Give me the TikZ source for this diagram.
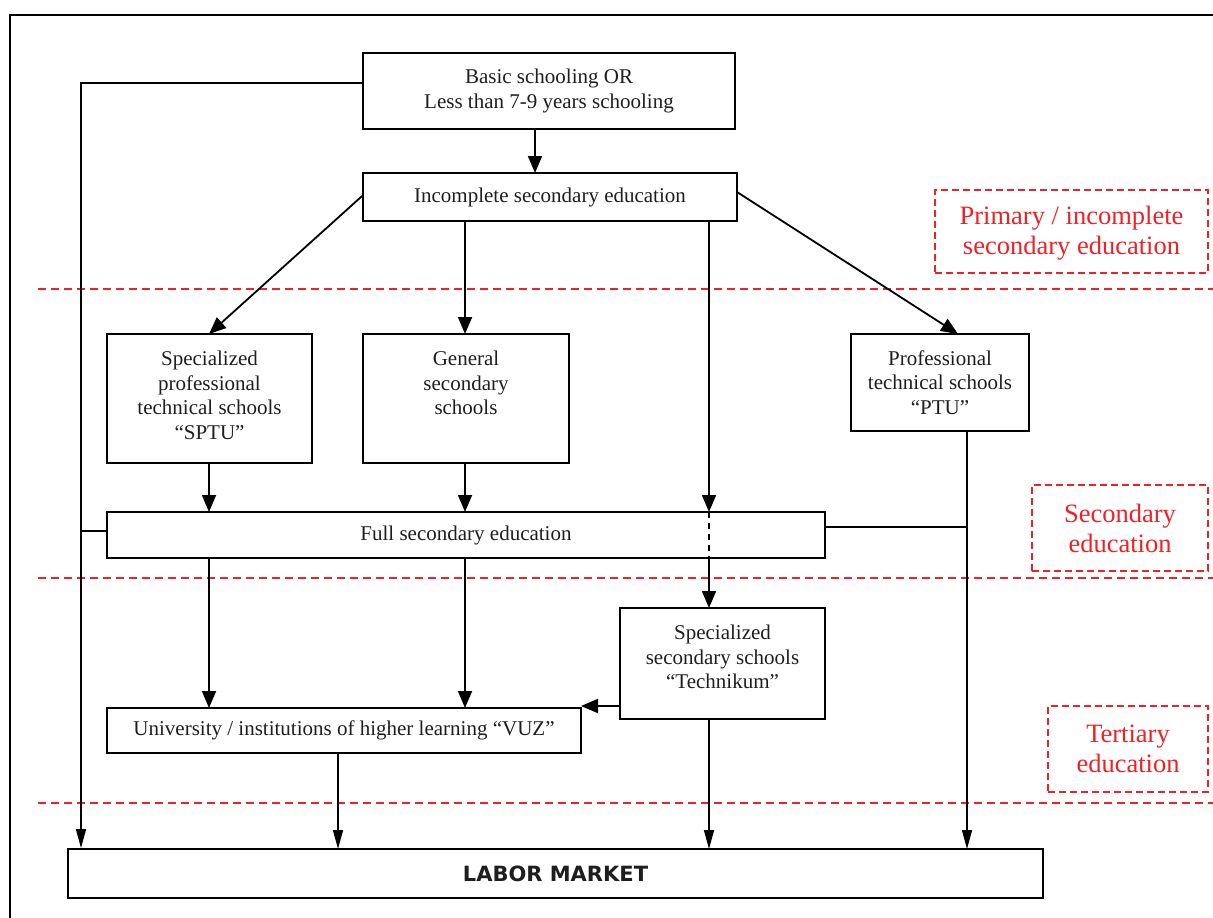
\documentclass[tikz,border=0pt]{standalone}
\usepackage{fontspec}
\setmainfont{Liberation Serif}
\newfontfamily\lmfont{DejaVu Sans}
\usetikzlibrary{arrows.meta,calc}
\definecolor{redline}{RGB}{236,34,40}
\definecolor{ink}{RGB}{30,30,30}
\begin{document}
\begin{tikzpicture}[x=1pt,y=-1pt,
  box/.style={draw,line width=1.8pt,inner sep=0pt},
  lbl/.style={align=center,font=\fontsize{21}{24.5}\selectfont,inner sep=0pt,text=ink},
  conn/.style={line width=1.8pt},
  arr/.style={line width=1.8pt,-{Triangle[length=17pt,width=14pt]}},
  arrs/.style={line width=1.5pt,-{Triangle[length=19pt,width=10pt]}},
  redbox/.style={draw=redline,dash pattern=on 7pt off 4pt,line width=1.8pt,inner sep=0pt},
  redtext/.style={text=redline,align=center,inner sep=0pt,font=\fontsize{26.5}{30}\selectfont},
  redline/.style={draw=redline,dash pattern=on 8pt off 5pt,line width=1.7pt}]
\useasboundingbox (0,0) rectangle (1213,918);
% outer frame
\draw[line width=1.8pt] (10,918) -- (10,15) -- (1213,15);
% red dividers
\draw[redline] (38,289) -- (1213,289);
\draw[redline] (38,578) -- (1213,578);
\draw[redline] (38,803) -- (1213,803);
% red labels
\node[redbox,minimum width=273pt,minimum height=83pt] (lp) at (1071.5,231.5) {};
\node[redtext] (lpt) at ($(lp.center)+(0,2)$) {Primary / incomplete\\secondary education};
\node[redbox,minimum width=176pt,minimum height=86pt] (ls) at (1120,528) {};
\node[redtext] (lst) at ($(ls.center)+(0,0)$) {Secondary\\education};
\node[redbox,minimum width=160pt,minimum height=86pt] (lt) at (1128,749) {};
\node[redtext] (ltt) at ($(lt.center)+(0,0)$) {Tertiary\\education};
% boxes
\node[box,minimum width=372pt,minimum height=76pt,lbl] (basic) at (549,91) {Basic schooling OR\\Less than 7-9 years schooling};
\node[box,minimum width=374pt,minimum height=48pt,lbl] (inc) at (550,197) {Incomplete secondary education};
\node[box,minimum width=205pt,minimum height=129pt] (sptu) at (209.5,398.5) {};
\node[lbl,anchor=north] (sptut) at ($(sptu.north)+(0,18)$) {Specialized\\professional\\technical schools\\``SPTU''};
\node[box,minimum width=206pt,minimum height=129pt] (gen) at (466,398.5) {};
\node[lbl,anchor=north] (gent) at ($(gen.north)+(0,18)$) {General\\secondary\\schools};
\node[box,minimum width=178pt,minimum height=97pt] (ptu) at (940,382.5) {};
\node[lbl,anchor=north] (ptut) at ($(ptu.north)+(0,17)$) {Professional\\technical schools\\``PTU''};
\node[box,minimum width=718pt,minimum height=46pt,lbl] (full) at (466,535) {Full secondary education};
\node[box,minimum width=205pt,minimum height=111pt] (tech) at (722.5,663.5) {};
\node[lbl,anchor=north] (techt) at ($(tech.north)+(0,18)$) {Specialized\\secondary schools\\``Technikum''};
\node[box,minimum width=474pt,minimum height=45pt,lbl] (vuz) at (344,730.5) {University / institutions of higher learning ``VUZ''};
\node[box,minimum width=975pt,minimum height=49pt,font=\lmfont\bfseries\fontsize{21}{24}\selectfont,text=ink] (labor) at (555.5,873.5) {LABOR MARKET};
% connectors
\coordinate (lc) at (81,83);
\draw[arrs] (basic.west |- lc) -- (lc) -- (lc |- labor.north);
\draw[conn] (81,531) -- (full.west |- 0,531);
\draw[arr] (535,129) -- (535,173);
\draw[arr] (inc.west) ++(0,-1) -- (209,334);
\draw[arr] (465,221) -- (465,334);
\draw[arr] (709,221) -- (709,512);
\draw[line width=1.8pt,dash pattern=on 6pt off 5pt] (709,512) -- (709,558);
\draw[arr] (709,558) -- (709,608);
\draw[arr] (737,192) -- (958,334);
\draw[arr] (209,463) -- (209,512);
\draw[arr] (465,463) -- (465,512);
\draw[arr] (209,558) -- (209,708);
\draw[arr] (465,558) -- (465,708);
\draw[arr] (620,706) -- (581,706);
\draw[conn] (825,527) -- (967,527);
\draw[arrs] (967,431) -- (967,849);
\draw[arrs] (709,719) -- (709,849);
\draw[arrs] (338,753) -- (338,849);
\end{tikzpicture}
\end{document}
